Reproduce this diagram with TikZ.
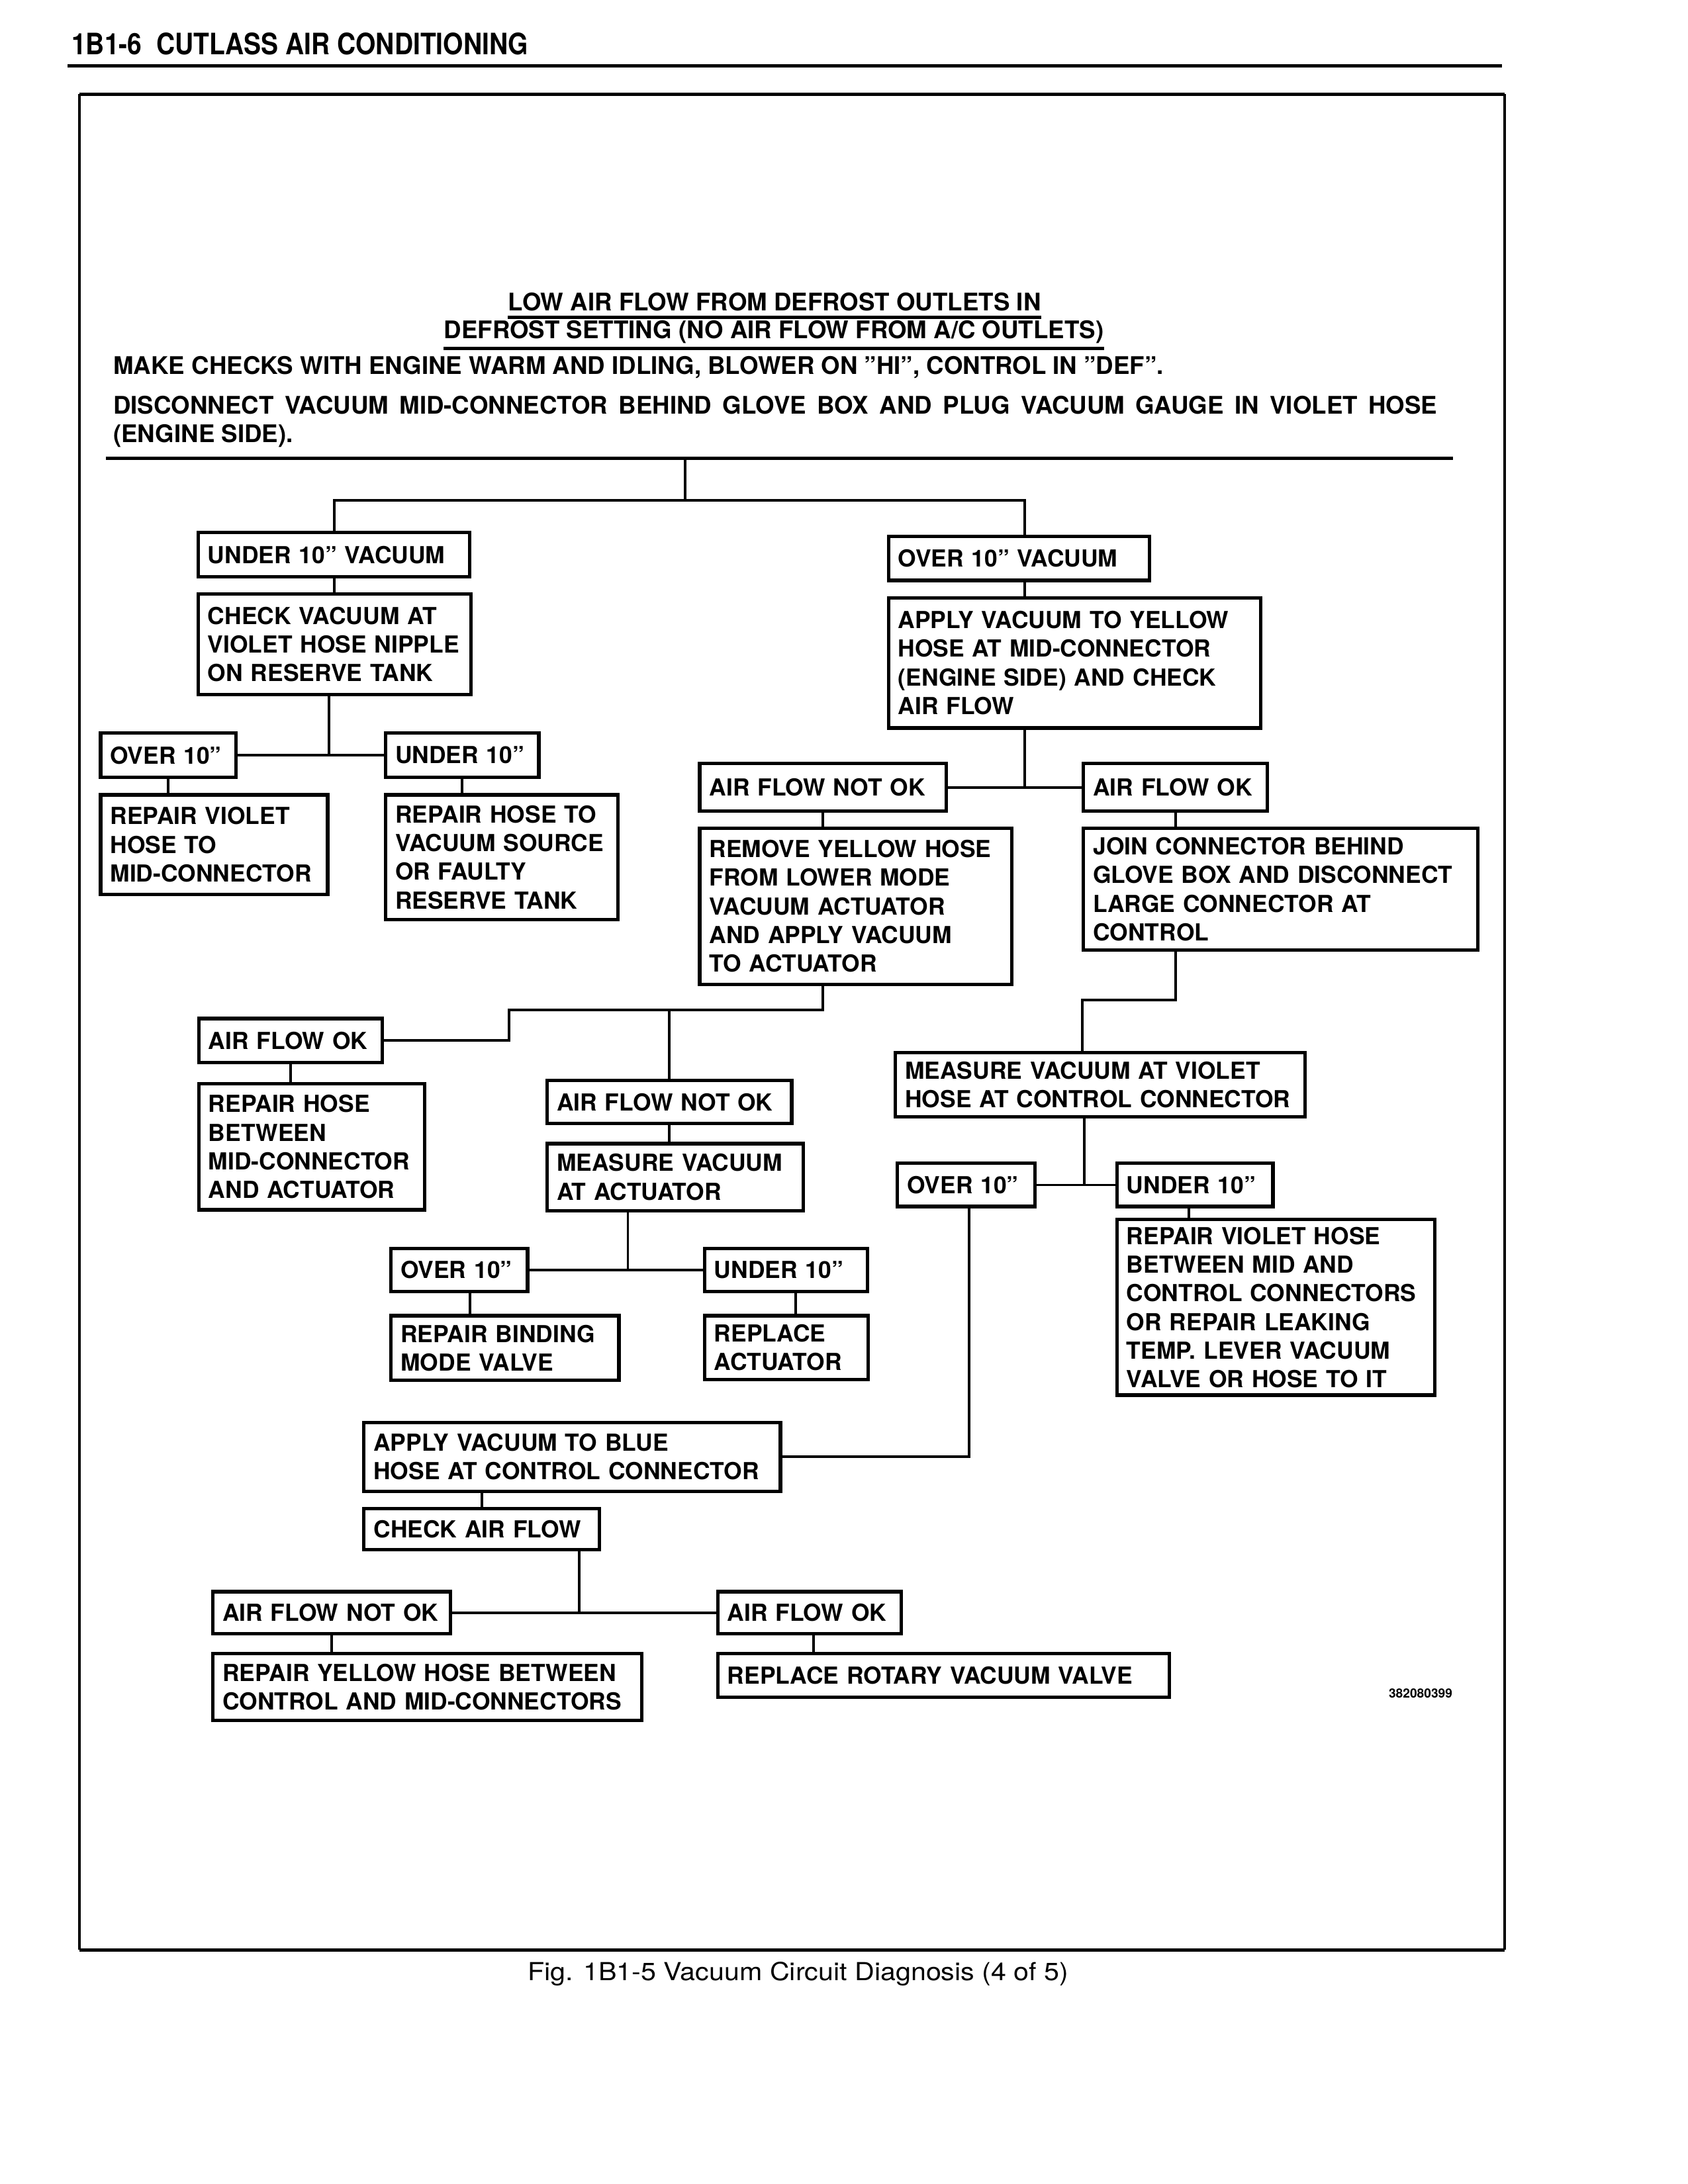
\documentclass[tikz,border=0pt]{standalone}
\usepackage{fontspec}
\setmainfont{TeX Gyre Heros}
\newfontfamily\headfont[FakeStretch=0.875]{TeX Gyre Heros}
\newfontfamily\capfont[FakeStretch=1.1]{TeX Gyre Heros}
\usetikzlibrary{positioning}

\begin{document}
\begin{tikzpicture}[x=0.5051bp, y=-0.5051bp, node distance=5bp,
    box/.style={draw, line width=1.25bp, anchor=north west, inner xsep=3.5bp, inner ysep=2bp,
      align=left, font=\fontsize{8.5bp}{10.4bp}\selectfont\bfseries},
    wd/.style={text width=#1*0.5051bp-7bp},
    ht/.style={minimum height=#1*0.5051bp},
    link/.style={line width=0.95bp},
    rule/.style={line width=1.2bp},
    plain text/.style={inner sep=0pt, font=\fontsize{8.8bp}{10.4bp}\selectfont\bfseries}]

    \useasboundingbox (0,0) rectangle (1211.6,1568);

    % page head and frame
    \node[anchor=base west, inner sep=0pt, font=\headfont\fontsize{10.7bp}{12bp}\selectfont\bfseries] (head) at (51,39) {1B1-6\ \ CUTLASS AIR CONDITIONING};
    \draw[rule] (48.5,47.5) -- (1078,47.5);
    \draw[line width=0.95bp] (57,67.5) -- (57,1400);
    \draw[line width=0.95bp] (1080,67.5) -- (1080,1400);
    \draw[rule] (57,67.5) -- (1080,67.5);
    \draw[rule] (57,1400) -- (1080,1400);

    % title and instructions
    \node[plain text, anchor=base] (title1) at (556,223) {LOW AIR FLOW FROM DEFROST OUTLETS IN};
    \node[plain text, anchor=base] (title2) at (555.5,243) {DEFROST SETTING (NO AIR FLOW FROM A/C OUTLETS)};
    \draw[rule] ([yshift=-2.4bp]title1.base west) -- ([yshift=-2.4bp]title1.base east);
    \draw[rule] ([yshift=-3.6bp]title2.base west) -- ([yshift=-3.6bp]title2.base east);
    \node[plain text, anchor=base west] (checks) at (81,268.5) {MAKE CHECKS WITH ENGINE WARM AND IDLING, BLOWER ON ''HI'', CONTROL IN ''DEF''.};
    \node[plain text, anchor=base west, text width=480bp, align=justify] (gauge) at (81,297) {DISCONNECT VACUUM MID-CONNECTOR BEHIND GLOVE BOX AND PLUG VACUUM GAUGE IN VIOLET HOSE\linebreak (ENGINE SIDE).};
    \draw[rule] (76,329) -- (1043,329);
    \coordinate (top) at (492,329);
    \coordinate (split) at (492,359);

    % left branch
    \node[box, wd=195, ht=32] (u10v) at (141,381) {UNDER 10'' VACUUM};
    \node[box, wd=196, ht=72] (cvat) [below=of u10v.south west, anchor=north west] {CHECK VACUUM AT\\VIOLET HOSE NIPPLE\\ON RESERVE TANK};
    \node[box, wd=97, ht=32] (o10a) at (71,525) {OVER 10''};
    \node[box, wd=110, ht=32] (u10a) at (275.5,525) {UNDER 10''};
    \node[box, wd=163, ht=71.5] (rvh) [below=of o10a.south west, anchor=north west] {REPAIR VIOLET\\HOSE TO\\MID-CONNECTOR};
    \node[box, wd=167, ht=89.5] (rhvs) [below=of u10a.south west, anchor=north west] {REPAIR HOSE TO\\VACUUM SOURCE\\OR FAULTY\\RESERVE TANK};

    % right branch
    \node[box, wd=187.5, ht=31.5] (o10v) at (636.5,384) {OVER 10'' VACUUM};
    \node[box, wd=267, ht=93.5] (avy) [below=of o10v.south west, anchor=north west] {APPLY VACUUM TO YELLOW\\HOSE AT MID-CONNECTOR\\(ENGINE SIDE) AND CHECK\\AIR FLOW};
    \node[box, wd=177, ht=34] (afnok1) at (501,547) {AIR FLOW NOT OK};
    \node[box, wd=132, ht=34] (afok1) at (776.5,547) {AIR FLOW OK};
    \node[box, wd=224, ht=112] (ryh) [below=of afnok1.south west, anchor=north west] {REMOVE YELLOW HOSE\\FROM LOWER MODE\\VACUUM ACTUATOR\\AND APPLY VACUUM\\TO ACTUATOR};
    \node[box, wd=283, ht=87.5] (jcb) [below=of afok1.south west, anchor=north west] {JOIN CONNECTOR BEHIND\\GLOVE BOX AND DISCONNECT\\LARGE CONNECTOR AT\\CONTROL};

    % actuator checks
    \node[box, wd=131.5, ht=31.5] (afok2) at (141.5,730) {AIR FLOW OK};
    \node[box, wd=162, ht=90.5] (rhb) [below=6.5bp of afok2.south west, anchor=north west] {REPAIR HOSE\\BETWEEN\\MID-CONNECTOR\\AND ACTUATOR};
    \node[box, wd=175.5, ht=31] (afnok2) at (391.5,774.5) {AIR FLOW NOT OK};
    \node[box, wd=184, ht=48] (mva) [below=6bp of afnok2.south west, anchor=north west] {MEASURE VACUUM\\AT ACTUATOR};
    \node[box, wd=98, ht=31] (o10b) at (279.5,895) {OVER 10''};
    \node[box, wd=117, ht=31] (u10b) at (504.5,895) {UNDER 10''};
    \node[box, wd=163.5, ht=46.5] (rbmv) [below=7.5bp of o10b.south west, anchor=north west] {REPAIR BINDING\\MODE VALVE};
    \node[box, wd=117.5, ht=46] (ra) [below=7.5bp of u10b.south west, anchor=north west] {REPLACE\\ACTUATOR};

    % control connector checks
    \node[box, wd=294, ht=46] (mvv) at (641.5,754.5) {MEASURE VACUUM AT VIOLET\\HOSE AT CONTROL CONNECTOR};
    \node[box, wd=98.5, ht=31] (o10c) at (643,834) {OVER 10''};
    \node[box, wd=112, ht=31] (u10c) at (800.5,834) {UNDER 10''};
    \node[box, wd=228, ht=126] (rvh2) [below=3.5bp of u10c.south west, anchor=north west] {REPAIR VIOLET HOSE\\BETWEEN MID AND\\CONTROL CONNECTORS\\OR REPAIR LEAKING\\TEMP. LEVER VACUUM\\VALVE OR HOSE TO IT};
    \node[box, wd=299, ht=49.5] (avb) at (260,1020) {APPLY VACUUM TO BLUE\\HOSE AT CONTROL CONNECTOR};
    \node[box, wd=169, ht=29.5] (caf) [below=of avb.south west, anchor=north west] {CHECK AIR FLOW};
    \node[box, wd=170.5, ht=30] (afnok3) at (151.5,1141.5) {AIR FLOW NOT OK};
    \node[box, wd=131.5, ht=30] (afok3) at (514,1141.5) {AIR FLOW OK};
    \node[box, wd=308, ht=48] (ryhb) [below=6bp of afnok3.south west, anchor=north west] {REPAIR YELLOW HOSE BETWEEN\\CONTROL AND MID-CONNECTORS};
    \node[box, wd=324, ht=31.5] (rrvv) [below=6bp of afok3.south west, anchor=north west] {REPLACE ROTARY VACUUM VALVE};

    \node[anchor=base west, inner sep=0pt, font=\fontsize{4.6bp}{5bp}\selectfont\bfseries] (code) at (996.5,1219) {382080399};
    \node[anchor=base, inner sep=0pt, font=\capfont\fontsize{9bp}{11bp}\selectfont] (caption) at (573,1422) {Fig. 1B1-5 Vacuum Circuit Diagnosis (4 of 5)};

    % connectors
    \coordinate (ovtap) at ([xshift=2bp]o10v.south);
    \coordinate (ovin) at ([xshift=2bp]o10v.north);
    \coordinate (cvtap) at ([xshift=-2bp]cvat.south);
    \coordinate (mvatap) at ([xshift=-17.2bp]mva.south);
    \coordinate (o10bout) at ([xshift=3.8bp]o10b.south);
    \coordinate (u10bout) at ([xshift=3.5bp]u10b.south);
    \coordinate (mvvin) at ([xshift=-6.5bp]mvv.north);
    \coordinate (mvvtap) at ([xshift=-5.8bp]mvv.south);
    \coordinate (u10cout) at ([xshift=-2.3bp]u10c.south);
    \coordinate (o10cout) at ([xshift=1bp]o10c.south);
    \coordinate (caftap) at ([xshift=-8bp]caf.south east);
    \coordinate (afok3out) at ([xshift=1.5bp]afok3.south);

    \draw[link] (top) -- (split);
    \draw[link] (u10v.north) |- (split) -| (ovin);
    \draw[link] (u10v.south) -- (u10v.south |- cvat.north);
    \draw[link] (cvtap) -- (cvtap |- o10a.east);
    \draw[link] (o10a.east) -- (u10a.west);
    \draw[link] (o10a.south) -- (o10a.south |- rvh.north);
    \draw[link] (u10a.south) -- (u10a.south |- rhvs.north);

    \draw[link] (ovtap) -- (ovtap |- avy.north);
    \draw[link] (ovtap |- avy.south) -- (ovtap |- afnok1.east);
    \draw[link] (afnok1.east) -- (afok1.west);
    \draw[link] (afnok1.south) -- (afnok1.south |- ryh.north);
    \draw[link] (afok1.south) -- (afok1.south |- jcb.north);

    \draw[link] (afnok1.south |- ryh.south) -- ++(0,17) coordinate (fork) -| (afnok2.north);
    \draw[link] (fork) -| ([xshift=45.5bp]afok2.east) -- (afok2.east);
    \draw[link] (afok2.south) -- (afok2.south |- rhb.north);
    \draw[link] (afnok2.south) -- (afnok2.south |- mva.north);
    \draw[link] (mvatap) -- (mvatap |- o10b.east);
    \draw[link] (o10b.east) -- (u10b.west);
    \draw[link] (o10bout) -- (o10bout |- rbmv.north);
    \draw[link] (u10bout) -- (u10bout |- ra.north);

    \draw[link] (afok1.south |- jcb.south) -- ++(0,34.5) -| (mvvin);
    \draw[link] (mvvtap) -- (mvvtap |- o10c.east);
    \draw[link] (o10c.east) -- (u10c.west);
    \draw[link] (u10cout) -- (u10cout |- rvh2.north);
    \draw[link] (o10cout) |- (avb.east);
    \draw[link] (caf.north) -- (caf.north |- avb.south);
    \draw[link] (caftap) -- (caftap |- afnok3.east);
    \draw[link] (afnok3.east) -- (afok3.west);
    \draw[link] (afnok3.south) -- (afnok3.south |- ryhb.north);
    \draw[link] (afok3out) -- (afok3out |- rrvv.north);
\end{tikzpicture}
\end{document}
